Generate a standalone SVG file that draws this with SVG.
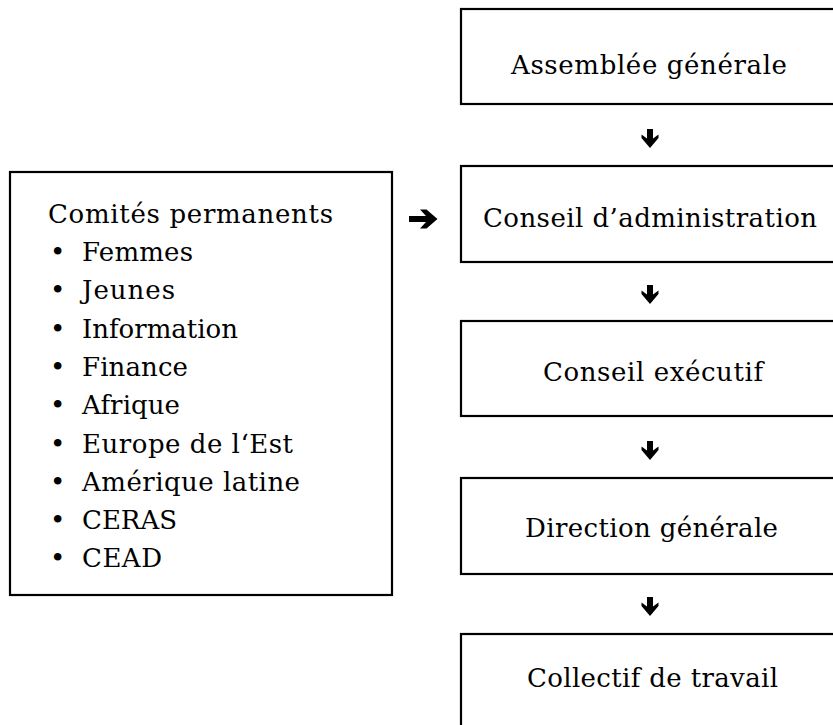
<svg xmlns="http://www.w3.org/2000/svg" width="833" height="725" viewBox="0 0 833 725">
<style>
.box{fill:#fff;stroke:#000;stroke-width:2.2}
.c{text-anchor:middle}
.arr{fill:#000}
</style>
<defs>
<path id="down" d="M-3,0 H3 V9.5 L8.5,5.5 L8.5,9 L0,19 L-8.5,9 L-8.5,5.5 L-3,9.5 Z"/>
</defs>
<rect width="833" height="725" fill="#fff"/>
<g font-family="'DejaVu Serif', 'Noto Serif', serif" font-size="26" fill="#000">
<g id="assemblee">
<rect class="box" x="461" y="9" width="420" height="95"/>
<text class="c" x="649" y="74" textLength="276" lengthAdjust="spacing">Assemblée générale</text>
</g>
<g id="conseil-admin">
<rect class="box" x="461" y="166" width="420" height="96"/>
<text class="c" x="650" y="227" textLength="334" lengthAdjust="spacing">Conseil d’administration</text>
</g>
<g id="conseil-exec">
<rect class="box" x="461" y="321" width="420" height="95"/>
<text class="c" x="653" y="381" textLength="220" lengthAdjust="spacing">Conseil exécutif</text>
</g>
<g id="direction">
<rect class="box" x="461" y="478" width="420" height="96"/>
<text class="c" x="651.5" y="537" textLength="253" lengthAdjust="spacing">Direction générale</text>
</g>
<g id="collectif">
<rect class="box" x="461" y="634" width="420" height="150"/>
<text class="c" x="652.5" y="687" textLength="251" lengthAdjust="spacing">Collectif de travail</text>
</g>
<g id="comites">
<rect class="box" x="10" y="172" width="382" height="423"/>
<text x="48" y="223" textLength="285" lengthAdjust="spacing">Comités permanents</text>
<text x="50" y="261">•</text><text x="82" y="261" textLength="111" lengthAdjust="spacing">Femmes</text>
<text x="50" y="299">•</text><text x="82" y="299" textLength="93" lengthAdjust="spacing">Jeunes</text>
<text x="50" y="338">•</text><text x="82" y="338" textLength="156" lengthAdjust="spacing">Information</text>
<text x="50" y="376">•</text><text x="82" y="376" textLength="106" lengthAdjust="spacing">Finance</text>
<text x="50" y="414">•</text><text x="82" y="414" textLength="98" lengthAdjust="spacing">Afrique</text>
<text x="50" y="453">•</text><text x="82" y="453" textLength="211" lengthAdjust="spacing">Europe de l‘Est</text>
<text x="50" y="491">•</text><text x="82" y="491" textLength="218" lengthAdjust="spacing">Amérique latine</text>
<text x="50" y="529">•</text><text x="82" y="529" textLength="95" lengthAdjust="spacing">CERAS</text>
<text x="50" y="567">•</text><text x="82" y="567" textLength="80" lengthAdjust="spacing">CEAD</text>
</g>
</g>
<g id="connectors" class="arr">
<use href="#down" x="650" y="129"/>
<use href="#down" x="650" y="285"/>
<use href="#down" x="650" y="441"/>
<use href="#down" x="650" y="597"/>
<path d="M409,216 H426 L420,209.5 H426.5 L437.5,219 L426.5,228.5 H420 L426,222 H409 Z"/>
</g>
</svg>
